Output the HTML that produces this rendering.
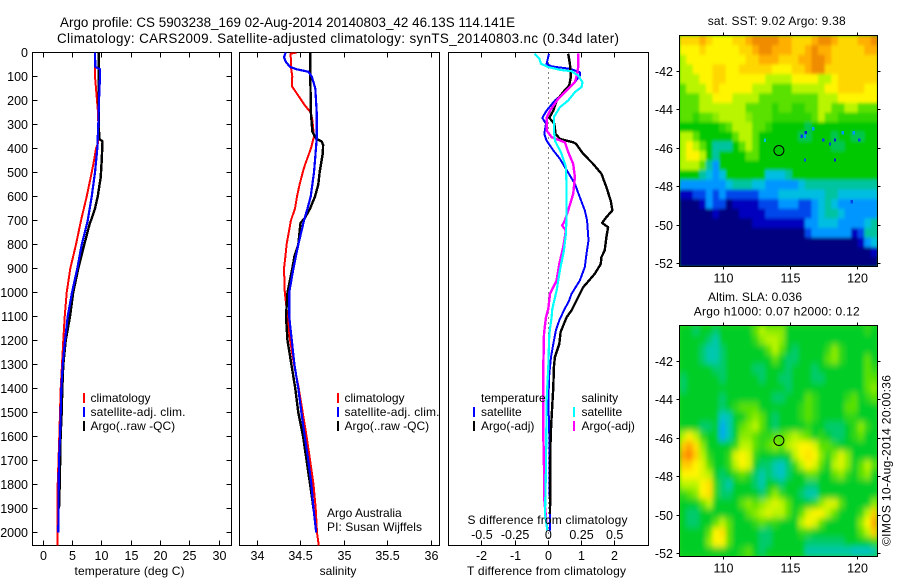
<!DOCTYPE html>
<html>
<head>
<meta charset="utf-8">
<style>
html,body{margin:0;padding:0;background:#fff;}
svg{display:block;}
text{font-family:"Liberation Sans",sans-serif;font-size:12px;fill:#000;}
</style>
</head>
<body>
<svg id="chart" xmlns="http://www.w3.org/2000/svg" width="900" height="580" viewBox="0 0 900 580">
<defs>
<clipPath id="clipMap1"><rect x="679.5" y="35.5" width="198" height="231"/></clipPath>
<clipPath id="clipMap2"><rect x="679.5" y="325.5" width="198" height="231"/></clipPath>
<clipPath id="clipP1"><rect x="32.5" y="52.5" width="199" height="493"/></clipPath>
<clipPath id="clipP2"><rect x="239.5" y="52.5" width="200" height="493"/></clipPath>
<clipPath id="clipP3"><rect x="448.5" y="52.5" width="200" height="493"/></clipPath>
<filter id="soft" x="-10%" y="-10%" width="120%" height="120%"><feGaussianBlur stdDeviation="2.4 3.4"/></filter>
<filter id="softer" x="-10%" y="-10%" width="120%" height="120%"><feGaussianBlur stdDeviation="1.2 1.6"/></filter>
</defs>
<text x="60" y="27" font-size="13.4" style="font-size:13.4px" textLength="455" lengthAdjust="spacing">Argo profile: CS 5903238_169 02-Aug-2014 20140803_42 46.13S 114.141E</text>
<text x="57" y="43" style="font-size:13.4px" textLength="562" lengthAdjust="spacing">Climatology: CARS2009. Satellite-adjusted climatology: synTS_20140803.nc (0.34d later)</text>

<g id="map1"></g>
<g id="map2"></g>
<g id="p1"></g>
<g id="p2"></g>
<g id="p3"></g>

<text x="129.5" y="575" text-anchor="middle" textLength="110" lengthAdjust="spacing">temperature (deg C)</text>
<text x="338" y="575" text-anchor="middle">salinity</text>
<text x="546.5" y="575" text-anchor="middle" textLength="159" lengthAdjust="spacing">T difference from climatology</text>
<text x="547.5" y="524" text-anchor="middle" textLength="160" lengthAdjust="spacing">S difference from climatology</text>

<g>
<rect x="83" y="393" width="2" height="10" fill="#ff0000"/>
<rect x="83" y="407" width="2" height="10" fill="#0000ff"/>
<rect x="83" y="421" width="2" height="10" fill="#000"/>
<text x="90.5" y="402">climatology</text>
<text x="90.5" y="416" textLength="95" lengthAdjust="spacing">satellite-adj. clim.</text>
<text x="90.5" y="430">Argo(..raw -QC)</text>
</g>
<g>
<rect x="337" y="393" width="2" height="10" fill="#ff0000"/>
<rect x="337" y="407" width="2" height="10" fill="#0000ff"/>
<rect x="337" y="421" width="2" height="10" fill="#000"/>
<text x="344.5" y="402">climatology</text>
<text x="344.5" y="416" textLength="95" lengthAdjust="spacing">satellite-adj. clim.</text>
<text x="344.5" y="430">Argo(..raw -QC)</text>
</g>
<text x="327" y="517">Argo Australia</text>
<text x="327" y="531" textLength="95" lengthAdjust="spacing">PI: Susan Wijffels</text>
<g>
<text x="481" y="402">temperature</text>
<text x="581.5" y="402">salinity</text>
<rect x="473" y="407" width="2" height="10" fill="#0000ff"/>
<rect x="473" y="421" width="2" height="10" fill="#000"/>
<rect x="573" y="407" width="2" height="10" fill="#00ffff"/>
<rect x="573" y="421" width="2" height="10" fill="#ff00ff"/>
<text x="481" y="416">satellite</text>
<text x="481" y="430">Argo(-adj)</text>
<text x="581.5" y="416">satellite</text>
<text x="581.5" y="430">Argo(-adj)</text>
</g>

<text x="707.7" y="25" textLength="138" lengthAdjust="spacing">sat. SST: 9.02 Argo: 9.38</text>
<text x="708" y="301" textLength="94" lengthAdjust="spacing">Altim. SLA: 0.036</text>
<text x="693.7" y="315.5" textLength="166" lengthAdjust="spacing">Argo h1000: 0.07 h2000: 0.12</text>
<text transform="translate(890.5,546) rotate(-90)" textLength="171" lengthAdjust="spacing">©IMOS 10-Aug-2014 20:00:36</text>
</svg>

<script>
// ---------- profile data ----------
const depthTicks = [0,100,200,300,400,500,600,700,800,900,1000,1100,1200,1300,1400,1500,1600,1700,1800,1900,2000];
const tempTicks = [0,5,10,15,20,25,30];
const salTicks = [34,34.5,35,35.5,36];
const salTickLabels = ['34','34.5','35','35.5','36'];
const tDiffTicks = [-2,-1,0,1,2];
const sDiffTicks = [-0.5,-0.25,0,0.25,0.5];
const sDiffTickLabels = ['-0.5','-0.25','0','0.25','0.5'];

const tempClimDepth = [0,60,100,150,200,240,300,380,400,450,500,600,700,800,900,1000,1100,1200,1300,1400,1500,1600,1800,1900,2055];
const tempClimVal = [8.8,8.83,8.83,9.0,9.17,9.3,9.4,9.3,9.0,8.66,8.26,7.41,6.44,5.58,4.61,3.99,3.65,3.42,3.19,2.97,2.85,2.74,2.46,2.42,2.46];
const tempSatDepth = [0,60,70,100,200,300,400,500,600,700,800,900,1000,1100,1200,1300,1400,1500,1600,1700,1800,2000];
const tempSatVal = [8.83,8.88,9.68,9.68,9.51,9.39,9.22,8.83,8.26,7.58,6.55,5.81,4.9,4.16,3.7,3.31,3.07,2.97,2.85,2.68,2.63,2.56];
const tempArgoDepth = [0,100,200,300,360,370,450,520,600,650,700,710,800,900,1000,1100,1200,1300,1400,1500,1600,1800,1900];
const tempArgoVal = [9.5,9.5,9.5,9.5,9.55,10.1,9.97,9.8,9.28,8.83,8.14,7.95,7.0,5.98,5.1,4.56,3.82,3.42,3.25,3.14,2.96,2.8,2.68];

const salClimDepth = [0,5,60,100,140,170,190,220,250,280,350,400,430,470,500,550,600,650,700,800,850,900,1000,1100,1200,1300,1400,1500,1600,1700,1800,1900,2000,2055];
const salClimVal = [34.456,34.387,34.39,34.406,34.4,34.456,34.494,34.55,34.617,34.636,34.655,34.62,34.59,34.55,34.525,34.49,34.46,34.437,34.39,34.34,34.326,34.31,34.32,34.35,34.38,34.425,34.48,34.525,34.57,34.61,34.65,34.675,34.69,34.71];
const salSatDepth = [0,20,40,60,70,80,100,150,250,360,450,500,600,650,700,800,900,1000,1100,1200,1300,1400,1500,1600,1700,1800,1900,2000];
const salSatVal = [34.33,34.31,34.333,34.38,34.456,34.59,34.63,34.67,34.686,34.686,34.667,34.655,34.617,34.58,34.54,34.475,34.418,34.37,34.37,34.4,34.43,34.475,34.51,34.55,34.59,34.625,34.65,34.68];
const salArgoDepth = [0,100,200,240,300,330,360,370,385,420,500,550,600,650,690,710,800,850,900,1000,1100,1200,1300,1400,1500,1600,1700,1800,1900];
const salArgoVal = [34.61,34.613,34.617,34.617,34.63,34.637,34.68,34.743,34.76,34.756,34.72,34.705,34.667,34.61,34.55,34.5,34.475,34.43,34.406,34.35,34.333,34.35,34.395,34.44,34.475,34.53,34.57,34.61,34.65];

const dTSatDepth = [5,47,58,68,82,96,124,165,200,242,272,297,339,367,408,443,478,547,603,658,700,783,839,894,950,1006,1033,1075,1116,1158,1214,1269,1339,1450,1589,1991];
const dTSatVal = [0.02,-0.05,0.1,0.65,0.95,0.95,0.8,0.5,0.2,-0.05,-0.18,-0.07,-0.12,-0.05,0.15,0.35,0.5,0.8,0.95,1.1,1.17,1.21,1.15,1.1,0.95,0.7,0.63,0.47,0.33,0.23,0.15,0.08,0.03,0,0.03,0.05];
const dTArgoDepth = [5,47,100,137,165,200,242,272,297,339,360,374,380,422,464,505,561,617,658,686,710,728,769,825,853,881,922,978,1019,1075,1103,1165,1214,1269,1311,1394,1519,1603,1922];
const dTArgoVal = [0.6,0.65,0.68,0.63,0.45,0.25,0.15,0.03,0.18,0.22,0.35,0.75,0.83,1.05,1.35,1.6,1.75,1.88,1.93,1.75,1.62,1.8,1.75,1.7,1.6,1.58,1.4,1.05,0.9,0.7,0.55,0.37,0.33,0.2,0.17,0.15,0.1,0.07,0.05];
const dSSatDepth = [5,26,47,61,72,78,96,124,144,165,200,228,269,325,367,422,478,561,672,756,825,908,992,1068,1103,1172,1311,1450,1727,1922,1991];
const dSSatVal = [-0.105,-0.068,-0.055,0,0.0875,0.175,0.225,0.2575,0.25,0.2,0.15,0.0875,0.0425,0.0425,0.05,0.1,0.1325,0.1375,0.1375,0.1325,0.1175,0.0875,0.0625,0.03,0.025,0.0075,0,-0.0125,-0.0175,-0.025,-0.0075];
const dSArgoDepth = [5,61,89,124,151,192,242,272,325,353,374,415,464,519,589,658,700,721,742,811,881,950,1006,1068,1103,1172,1311,1450,1589,1727,1852,1991];
const dSArgoVal = [0.225,0.225,0.2175,0.2,0.15,0.075,0.0125,-0.0125,-0.0125,0.025,0.125,0.15,0.1875,0.2,0.1875,0.15,0.125,0.105,0.1325,0.1125,0.0825,0.0625,0.0125,0,-0.0175,-0.0325,-0.0375,-0.0375,-0.0375,-0.0325,-0.0325,-0.0075];

// ---------- map data (colour levels, rows north to south) ----------
const lonTicks = [110,115,120];
const latTicks = [-42,-44,-46,-48,-50,-52];
const floatLon = [114.141];
const floatLat = [-46.13];
const sstLevels = [
[10,10,10,11,10,9,9,9,10,10,11,12,12,12,12,11,11,10,10,10,11,12,12,11,10,10,10,11,11,12],
[9,9,9,10,9,9,9,9,9,10,10,11,12,12,11,11,11,10,10,11,12,11,11,10,10,10,10,10,11,11],
[8,9,9,9,9,9,9,9,9,9,10,10,11,11,11,10,10,10,11,11,12,12,11,10,10,10,10,10,10,10],
[8,8,9,9,9,10,10,9,9,10,10,10,10,10,9,9,9,10,10,11,12,12,10,10,10,10,10,10,10,10],
[8,8,8,9,9,10,10,9,9,9,9,9,9,8,8,8,8,9,9,9,9,8,8,9,10,10,10,10,10,10],
[7,8,8,8,9,10,9,9,9,9,9,8,8,8,7,7,7,8,8,8,8,8,9,9,10,10,10,10,9,9],
[7,7,7,8,8,9,9,9,8,8,8,8,7,7,7,7,7,7,7,7,7,8,8,8,9,9,9,9,9,9],
[7,7,7,8,8,8,8,8,8,8,7,7,7,7,6.5,7,7,6.5,6.5,7,7,8,8,7,7,8,8,7,7,7],
[7,7,6.5,7,7,7.5,8,8,8,8,7.5,7,7,7,6.5,6.5,6.5,6.5,6.5,6.5,7,8,7,7,6.5,6.5,6.5,6.5,6.5,6.5],
[6,6,6,6,6,6,6.5,7,8,8,8,7,7,6.5,6,6,6,6,6,5.5,6,6,6,6,6,6,6,6,6,6],
[8,8,7,6,6,6,6,6,7,8,8,7,6,6,6,6,6,6,5.5,5.5,6,6,6,5.5,6,6,5.5,5.5,6,6],
[8,9,8,7,6,5,5,5,6,7,8,7,6,6,6,6,6,6,6,6,6,6,6,5.5,5.5,6,6,6,6,6],
[8,9,9,8,6,5,6,6,6,6,7,7,6,6,6,6,6,6,6,6,6,6,6,6,6,6,6,6,6,6],
[8,8,8,7,5,3,6,6,6,6,6,6,6,6,6,6,6,6,6,6,6,6,6,6,6,6,6,6,6,6],
[6,6,6,5,4,3,4,6,6,6,6,6,6,4,4,4,5,6,6,6,6,6,6,6,6,6,6,6,6,6],
[3,3,3,3,3,3,3,4,5,5,5,4,4,3,3,3,3,3,4,5,5,5,5,5,5,5,5,5,5,5],
[1,1,2,2,3,2,3,2,2,2,2,2,3,3,3,4,4,4,4,4,4,4,5,5,4,4,4,4,4,4],
[0,0,0,1,3,2,2,0,1,1,1,1,2,2,2,3,3,3,2,2,3,4,5,4,3,3,3,3,3,3],
[0,0,0,0,0,1,0,0,0,1,1,1,1,2,2,2,2,2,2,2,3,4,5,5,4,3,3,3,3,3],
[0,0,0,0,0,0,0,0,0,0,0,1,1,1,1,1,1,1,1,3,3,4,4,4,3,3,3,3,4,5],
[0,0,0,0,0,0,0,0,0,0,0,0,0,0,0,0,0,0,0,2,3,3,3,3,3,3,1,2,5,5],
[0,0,0,0,0,0,0,0,0,0,0,0,0,0,0,0,0,0,0,0,0,0,0,0,0,0,0,1,3,4],
[0,0,0,0,0,0,0,0,0,0,0,0,0,0,0,0,0,0,0,0,0,0,0,0,0,0,0,0,0,1],
[0,0,0,0,0,0,0,0,0,0,0,0,0,0,0,0,0,0,0,0,0,0,0,0,0,0,0,0,0,0]
];
const speckLon = [116.13,115.83,116.08,117.44,117.94,118.31,120.12,116.08,118.31,119.55,113.1,116.7,118.9,119.7];
const speckLat = [-45.19,-45.38,-45.38,-45.58,-45.79,-45.58,-45.58,-46.62,-46.62,-48.79,-45.6,-45,-45.2,-45.2];
const speckLevel = [1.5,2,3,2,2,1.5,2,2,1.5,2,4,3,3,3];
const slaLevels = [
[6,6,5.5,6,6,5.5,6,6,6,6,6,7,8,7.5,7.5,7.5,6,6,6,6,6,6,6,6,6,6,6,6,6.5,6],
[6,6,6,6,5.5,5,6,6,6,6,6,6.5,7.5,8,8,7.5,6,6,6,6,6,6,6,6,6,6,6,6,6,6],
[6,6,6,5.5,5,5,5.5,6,6,6,6,6,6,7,8,7,6,5.5,6,6,6,6,6.5,7.5,6.5,6,6,6,6,6],
[6,6,6,5.5,5,5,5.5,6,6,6,6,6,6,6,7,6,5.5,5.5,6,6,6,6,7,7.5,6.5,6,6,6,7,6],
[6,6,6,6,6,5.5,5.5,6,6,6,6,5.5,5.5,6,6,6,5.5,6,6,6,5.5,6,6,6,6,6,6,6,7,6.5],
[5.5,6,6,6,6,6,5.5,6,6,6,6,6,5.5,6,6,5.5,5.5,6,6,6,5.5,5.5,6,6,6,6,6,6,7,7],
[5.5,6,6,6,6,6,6,6,6,6,6,6,6,6,6,6,5.5,6,6,6,6,6,6,6,6,6,6,6,7,7.5],
[6,6,6,6,6,6,5.5,6,6,6,6,6,6,6,5.5,5.5,6,6,6,7,6.5,6,6,6,6,6.5,7,6,6.5,7],
[6,6,6,6,6,6,5.5,6,6.5,7,7,7,6,6,6,6,6,6,6.5,7,6.5,6,6,6,6,7,7,6,6,6],
[6,6,6,6,6,6,4.5,5,6,6,7,7.5,7,6,5.5,6,6,6,6.5,7,6.5,6,6,6,6,6.5,6.5,6,6,6],
[6,6,6,5.5,5.5,6,3.5,5,6,7,7.5,8,7,6,5.5,6,6,6,6,6.5,6,6,5.5,5.5,5.5,6,6.5,7.5,6.5,6],
[8,9,8,6.5,6,6,3.5,5,6,7.5,7.5,7,6.5,6.5,7,7,7.5,8,7.5,7,6,6.5,6,5.5,5.5,6,6.5,7,6,6],
[10,11,9.5,7.5,6,6,6,6,6.5,8,8,7,6.5,7,7.5,7,8,8.5,9,9,8.5,7,7,6.5,6,6,6,6,6,6],
[11,12,10,8,6.5,6,6,6.5,8.5,9,8.5,6.5,6,6,6,6,6,8,9,9.5,9,7.5,6.5,7.5,8.5,7.5,6,6,6,6],
[10,10,9,8.5,7,6,6,6.5,8,9,8.5,6,5.5,5.5,5,4.5,5.5,6.5,8,9,8.5,7,6,8,8.5,7.5,6,7,8,7],
[9,9,9,8.5,8,6,5.5,6,6.5,7,6.5,5.5,5,5.5,5,4.5,5.5,6,6,7,7,6,6,7,7.5,6.5,6,7,7.5,6],
[8,8,8,9,9.5,6.5,5.5,5,6,6,6,5.5,5,6,6,5.5,6,6,6,5.5,5.5,6,6,6,6,6,6,6,6,6],
[6.5,7,7.5,9,9.5,6.5,5.5,5.5,6,6,6,6,5.5,6.5,7.5,6.5,6,6,5.5,5,5,6,6,6,6,6,6,6,6,6],
[6,6,6,7,8,6,6,6,6,7,7.5,7,7.5,8,8.5,8,7,6,6,6,6.5,7.5,8.5,8.5,7,6,6,6,6,7.5],
[6,5.5,5.5,6,6,6,6,6,6,6,7,7.5,8,8.5,8,8,7,6,7,8.5,9,9,8,7,6,6,6,6.5,8,10],
[6,5.5,5.5,6,6,7,8,7,6,6,6,6.5,7,6.5,6.5,6,6,6,8,9,8.5,7,6,6,6,6,6,7.5,9,11],
[6,6,6,6,7,9,9.5,7,6,6,6,6,5.5,5.5,6,6,6,6,6.5,6.5,6,6,6,6,6,6,6,7,8,10],
[6,6,6,6,7.5,9,9,7,6,6,6,6,5.5,5.5,6,6,6,6,6,5.5,5.5,5.5,5.5,5.5,5.5,6,6,6,6,6.5],
[6,6,6,6,6,6,6,6,6,6.5,7,6,5.5,6,6,6,6,6,6,5,5,5,5,5,5,5,4.5,4.5,4.5,5]
];
const sstPalette = [[0,0,128],[0,0,190],[0,70,235],[0,150,255],[0,190,225],[0,195,160],[0,200,0],[90,225,0],[185,245,0],[255,245,0],[255,215,0],[255,175,0],[240,140,0]];
const slaPalette = [[0,0,128],[0,0,190],[0,70,235],[0,150,255],[0,190,225],[0,200,175],[0,205,40],[90,225,0],[185,245,0],[255,245,0],[255,205,0],[255,165,0],[255,130,0]];

// ---------- scales ----------
const NS = 'http://www.w3.org/2000/svg';
function yDepth(d){ return 52.5 + d * 0.24; }
function xTemp(t){ return 43.3 + t * 5.857; }
function xSal(s){ return 257 + (s - 34) * 87; }
function xDT(t){ return 548.3 + t * 33.2; }
function xDS(s){ return 548.3 + s * 132.8; }
function xLon(l){ return 723.3 + (l - 110) * 13.43; }
function yLat1(l){ return 71 + (-42 - l) * 19.25; }
function yLat2(l){ return 361 + (-42 - l) * 19.25; }
function color(v, pal){
  const i = Math.max(0, Math.min(pal.length - 2, Math.floor(v)));
  const f = Math.max(0, Math.min(1, v - i));
  const c = pal[i].map(function(a, k){ return Math.round(a + (pal[i + 1][k] - a) * f); });
  return 'rgb(' + c.join(',') + ')';
}
function mk(tag, attrs, parent){
  const e = document.createElementNS(NS, tag);
  for (const k in attrs) e.setAttribute(k, attrs[k]);
  parent.appendChild(e);
  return e;
}
function tick(parent, x1, y1, x2, y2){
  const el = mk('line', {x1:x1, y1:y1, x2:x2, y2:y2, stroke:'#000', 'stroke-width':1, 'shape-rendering':'crispEdges'}, parent);
  
  
}
function label(parent, x, y, anchor, str){
  const el = mk('text', {x:x, y:y, 'text-anchor':anchor}, parent);
  el.style.fontSize = '12.5px';
  el.textContent = str;
  
  
}
function frame(parent, x, y, w, h){
  const el = mk('rect', {x:x, y:y, width:w, height:h, fill:'none', stroke:'#000', 'stroke-width':1, 'shape-rendering':'crispEdges'}, parent);
  
  
}
function series(parent, clip, depths, vals, xf, col, w, name){
  const pts = depths.map(function(d, i){ return xf(vals[i]).toFixed(1) + ',' + yDepth(d).toFixed(1); }).join(' ');
  const el = mk('polyline', {points:pts, fill:'none', stroke:col, 'stroke-width':w, 'stroke-linejoin':'round', 'clip-path':'url(#' + clip + ')', 'shape-rendering':'crispEdges'}, parent);
  
  
}

// ---------- panel 1: temperature ----------
const p1 = document.getElementById('p1');
frame(p1, 32.5, 52.5, 199, 493);
depthTicks.forEach(function(d){
  const y = Math.round(yDepth(d) - 0.5) + 0.5;
  tick(p1, 32.5, y, 37.5, y);
  tick(p1, 226.5, y, 231.5, y);
  label(p1, 28, y + 4.5, 'end', String(d));
});
tempTicks.forEach(function(t){
  const x = Math.round(xTemp(t) - 0.5) + 0.5;
  tick(p1, x, 52.5, x, 57.5);
  tick(p1, x, 540.5, x, 545.5);
  label(p1, x, 560, 'middle', String(t));
});
series(p1, 'clipP1', tempClimDepth, tempClimVal, xTemp, '#ff0000', 2, 'temperature-climatology-line');
series(p1, 'clipP1', tempArgoDepth, tempArgoVal, xTemp, '#000000', 2.4, 'temperature-argo-line');
series(p1, 'clipP1', tempSatDepth, tempSatVal, xTemp, '#0000ff', 2.2, 'temperature-satellite-line');

// ---------- panel 2: salinity ----------
const p2 = document.getElementById('p2');
frame(p2, 239.5, 52.5, 200, 493);
salTicks.forEach(function(s, i){
  const x = Math.round(xSal(s) - 0.5) + 0.5;
  tick(p2, x, 52.5, x, 57.5);
  tick(p2, x, 540.5, x, 545.5);
  label(p2, x, 560, 'middle', salTickLabels[i]);
});
series(p2, 'clipP2', salClimDepth, salClimVal, xSal, '#ff0000', 2, 'salinity-climatology-line');
series(p2, 'clipP2', salArgoDepth, salArgoVal, xSal, '#000000', 2.4, 'salinity-argo-line');
series(p2, 'clipP2', salSatDepth, salSatVal, xSal, '#0000ff', 2.2, 'salinity-satellite-line');

// ---------- panel 3: differences ----------
const p3 = document.getElementById('p3');
frame(p3, 448.5, 52.5, 200, 493);
tDiffTicks.forEach(function(t){
  const x = Math.round(xDT(t) - 0.5) + 0.5;
  tick(p3, x, 52.5, x, 57.5);
  tick(p3, x, 540.5, x, 545.5);
  label(p3, x, 560, 'middle', String(t));
});
sDiffTicks.forEach(function(s, i){
  label(p3, xDS(s), 539, 'middle', sDiffTickLabels[i]);
});
const zeroLine = mk('line', {x1:548.5, y1:52.5, x2:548.5, y2:545, stroke:'#000', 'stroke-width':1, 'stroke-dasharray':'1 4', 'shape-rendering':'crispEdges'}, p3);


series(p3, 'clipP3', dTSatDepth, dTSatVal, xDT, '#0000ff', 2, 't-difference-satellite-line');
series(p3, 'clipP3', dTArgoDepth, dTArgoVal, xDT, '#000000', 2.4, 't-difference-argo-line');
series(p3, 'clipP3', dSArgoDepth, dSArgoVal, xDS, '#ff00ff', 2.4, 's-difference-argo-line');
series(p3, 'clipP3', dSSatDepth, dSSatVal, xDS, '#00ffff', 2.2, 's-difference-satellite-line');

// ---------- maps ----------
function drawMap(host, levels, pal, top, clip, blurId){
  const clipG = mk('g', {'clip-path':'url(#' + clip + ')'}, host);
  mk('rect', {x:679.5, y:top, width:198, height:231, fill:color(levels[12][12], pal)}, clipG);
  const g = mk('g', {filter:'url(#' + blurId + ')'}, clipG);
  const cw = 198 / levels[0].length, ch = 231 / levels.length;
  levels.forEach(function(row, r){
    row.forEach(function(v, c){
      const cell = mk('rect', {x:(679.5 + c * cw).toFixed(2), y:(top + r * ch).toFixed(2), width:(cw + 0.5).toFixed(2), height:(ch + 0.5).toFixed(2), fill:color(v, pal)}, g);
      
      
    });
  });
  return clipG;
}
function mapAxes(host, top, yLat){
  frame(host, 679.5, top, 198, 231);
  lonTicks.forEach(function(l){
    const x = Math.round(xLon(l) - 0.5) + 0.5;
    tick(host, x, top - 3, x, top);
    tick(host, x, top + 231, x, top + 234);
    label(host, x, top + 247, 'middle', String(l));
  });
  latTicks.forEach(function(l){
    const y = Math.round(yLat(l) - 0.5) + 0.5;
    tick(host, 676.5, y, 679.5, y);
    tick(host, 877.5, y, 880.5, y);
    label(host, 673, y + 4.5, 'end', String(l));
  });
}
const map1 = document.getElementById('map1');
const g1 = drawMap(map1, sstLevels, sstPalette, 35.5, 'clipMap1', 'softer');
speckLon.forEach(function(l, i){
  const s = mk('rect', {x:(xLon(l) - 1.1).toFixed(1), y:(yLat1(speckLat[i]) - 1.6).toFixed(1), width:2.3, height:3.3, fill:color(speckLevel[i], sstPalette), 'shape-rendering':'crispEdges'}, g1);
  
  
});
mapAxes(map1, 35.5, yLat1);
const float1 = mk('circle', {cx:xLon(floatLon[0]), cy:yLat1(floatLat[0]), r:5, fill:'none', stroke:'#000', 'stroke-width':1}, map1);



const map2 = document.getElementById('map2');
drawMap(map2, slaLevels, slaPalette, 325.5, 'clipMap2', 'soft');
mapAxes(map2, 325.5, yLat2);
const float2 = mk('circle', {cx:xLon(floatLon[0]), cy:yLat2(floatLat[0]), r:5, fill:'none', stroke:'#000', 'stroke-width':1}, map2);


</script>
</body>
</html>
